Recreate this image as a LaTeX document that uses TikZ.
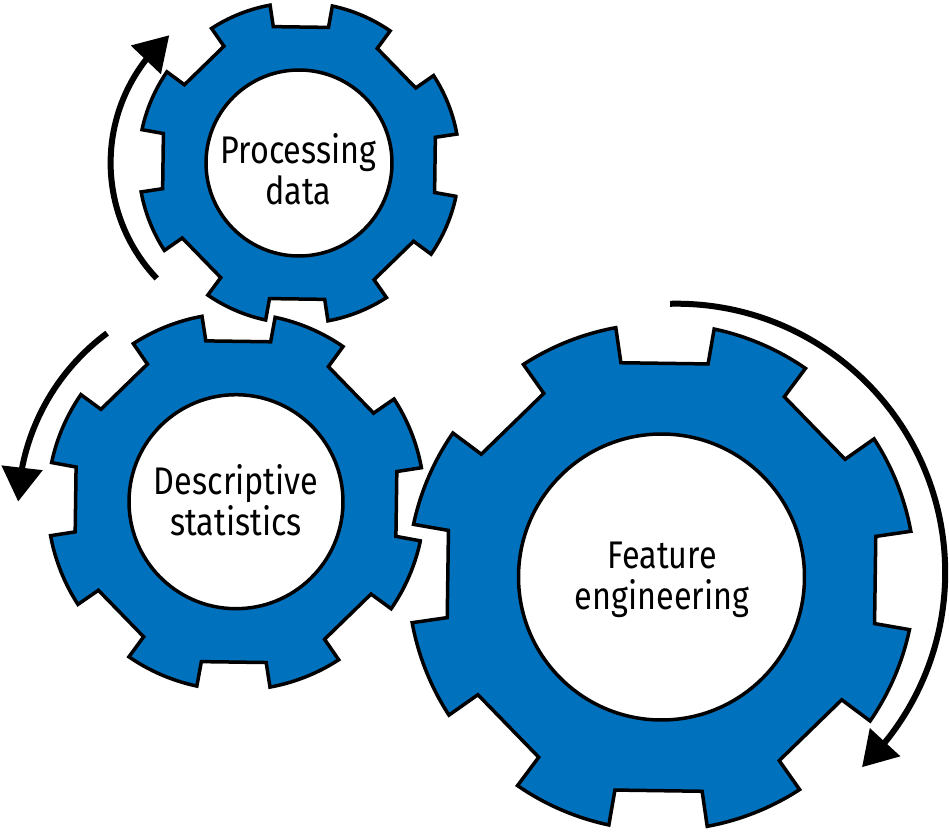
\documentclass[tikz,border=0pt]{standalone}
\usepackage{fontspec}
\setmainfont{Fira Sans}[FakeStretch=0.84]
\usetikzlibrary{arrows.meta,bending}
\definecolor{gearblue}{RGB}{0,113,188}

\tikzset{
  gearbody/.style={fill=gearblue, draw=black, line width=3.5pt, even odd rule, line join=miter},
  gearlabel/.style={align=center, font=\fontsize{38.5}{41}\selectfont, inner sep=0pt},
  turnarrow/.style={line width=6pt, -{Triangle[length=34pt,width=40pt]}},
}

% #1 center x, #2 center y, #3 outer radius, #4 notch depth radius, #5 inner radius
\newcommand\drawmygear[5]{%
  \begin{scope}[shift={(#1,#2)}, rotate=-0.8]
    \pgfmathsetmacro\gHb{0.172*#3}
    \pgfmathsetmacro\gAl{asin(0.194)}
    \pgfmathsetmacro\gBe{atan(\gHb/#4)}
    \pgfmathsetmacro\gRb{#4/cos(\gBe)}
    \path[gearbody] (-\gAl:#3)
      \foreach \k in {0,...,7}{
        -- ({45*\k-\gBe}:\gRb) -- ({45*\k+\gBe}:\gRb) -- ({45*\k+\gAl}:#3)
        arc[start angle={45*\k+\gAl}, end angle={45*\k+45-\gAl}, radius=#3]
      } -- cycle
      (0,0) circle[radius=#5];
  \end{scope}}

\begin{document}
\begin{tikzpicture}[x=1pt,y=1pt]
  \useasboundingbox (0,0) rectangle (949,831);
  \fill[white] (0,0) rectangle (949,831);

  % gears
  \drawmygear{299}{668}{160.5}{136}{93}
  \drawmygear{236}{329.3}{188.5}{160.4}{107}
  \drawmygear{661.5}{254}{253.5}{213.7}{143}

  % labels
  \node[gearlabel] (proc) at (298.3,661.6) {Processing\\data};
  \node[gearlabel] (desc) at (236,330.8) {Descriptive\\statistics};
  \node[gearlabel] (feat) at (662,251) {Feature\\engineering};

  % rotation arrows
  \coordinate (c1) at (278.6,668.2);
  \coordinate (c2) at (238,321);
  \coordinate (c3) at (676.2,258.3);
  \draw[turnarrow] ([shift={(223.5:168)}]c1) arc[start angle=223.5, end angle=130.6, radius=168];
  \draw[turnarrow] ([shift={(126.5:220)}]c2) arc[start angle=126.5, end angle=177.8, radius=220];
  \draw[turnarrow] ([shift={(91.3:269)}]c3) arc[start angle=91.3, end angle=-46.3, radius=269];
\end{tikzpicture}
\end{document}
